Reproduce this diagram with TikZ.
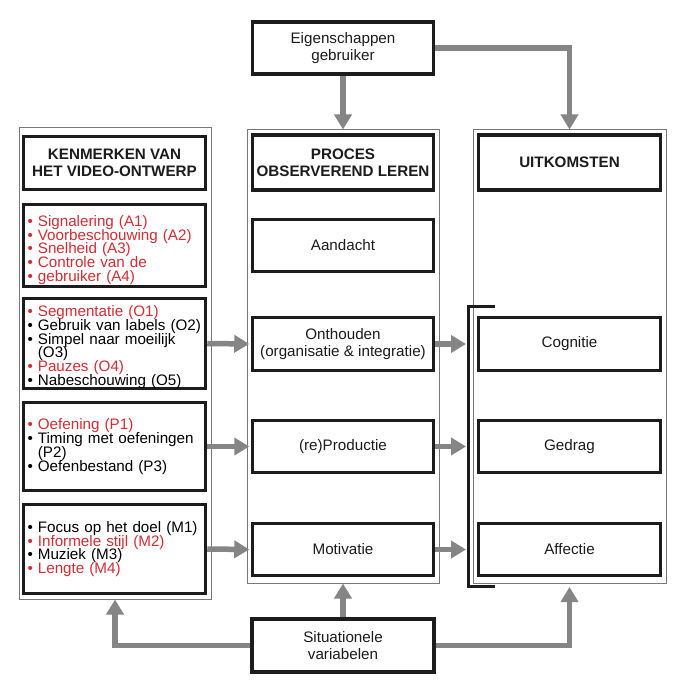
\documentclass[tikz,border=0pt]{standalone}
\usepackage{fontspec}
\setmainfont{Liberation Sans}
\usetikzlibrary{arrows.meta}
\definecolor{lred}{RGB}{212,45,50}
\definecolor{agray}{RGB}{133,133,133}
\definecolor{tgray}{RGB}{120,120,120}
\definecolor{kblack}{RGB}{28,28,28}
\newcommand\mytightlines{\lineskiplimit=-20pt\relax\lineskip=0pt\relax}
\begin{document}
\begin{tikzpicture}[x=1pt,y=-1pt,
  col/.style={draw=tgray,line width=1pt,inner sep=0pt},
  tbox/.style={draw=kblack,line width=3.5pt,inner sep=0pt,align=center,
    font=\fontsize{15.2}{17}\selectfont,text=kblack,minimum width=181pt,minimum height=52pt},
  head/.style={tbox,font=\fontsize{15.2}{17}\selectfont\bfseries},
  lbox/.style={draw=kblack,line width=3.5pt,inner xsep=4pt,inner ysep=0pt,align=left,
    text width=174pt,font=\fontsize{15.2}{13.8}\selectfont\mytightlines,minimum height=#1},
  arr/.style={draw=agray,line width=5.5pt,-{Triangle[length=15pt,width=17pt]}}
]
\useasboundingbox (0,0) rectangle (700,700);
\fill[white] (0,0) rectangle (700,700);
% columns
\node[col,minimum width=192pt,minimum height=471pt] (colL) at (115,363.5) {};
\node[col,minimum width=192pt,minimum height=453pt] (colM) at (343,356.5) {};
\node[col,minimum width=193pt,minimum height=453pt] (colR) at (569.5,356.5) {};
% top and bottom
\node[tbox] (eig) at (343,48) {Eigenschappen\\gebruiker};
\node[tbox,minimum width=182pt,minimum height=53pt] (sit) at (343,645.5) {Situationele\\variabelen};
% headings
\node[head,minimum width=182pt,minimum height=53pt] (hL) at (114.5,163) {KENMERKEN VAN\\HET VIDEO-ONTWERP};
\node[head,minimum height=55pt] (hM) at (343,162.5) {PROCES\\OBSERVEREND LEREN};
\node[head,minimum width=182pt,minimum height=55pt] (hR) at (569.5,162.5) {UITKOMSTEN};
% left lists
\node[lbox=82pt] (A) at (114.5,245.5) {\color{lred}\rule{0pt}{20pt}• Signalering (A1)\\• Voorbeschouwing (A2)\\• Snelheid (A3)\\• Controle van de\\• gebruiker (A4)};
\node[lbox=90pt] (O) at (114.5,343.5) {{\color{lred}\rule{0pt}{18pt}• Segmentatie (O1)}\\• Gebruik van labels (O2)\\• Simpel naar moeilijk\\\phantom{• }(O3)\\{\color{lred}• Pauzes (O4)}\\• Nabeschouwing (O5)};
\node[lbox=88pt] (P) at (114.5,446.5) {{\color{lred}• Oefening (P1)}\\• Timing met oefeningen\\\phantom{• }(P2)\\• Oefenbestand (P3)};
\node[lbox=89pt] (M) at (114.5,549) {• Focus op het doel (M1)\\{\color{lred}• Informele stijl (M2)}\\• Muziek (M3)\\{\color{lred}• Lengte (M4)}};
% middle
\node[tbox] (aan) at (343,245.5) {Aandacht};
\node[tbox,minimum height=53pt] (ont) at (343,344) {Onthouden\\(organisatie \& integratie)};
\node[tbox] (rep) at (343,446.5) {(re)Productie};
\node[tbox] (mot) at (343,549.5) {Motivatie};
% right
\node[tbox,minimum width=182pt,minimum height=53pt] (cog) at (569.5,344) {Cognitie};
\node[tbox,minimum width=182pt] (ged) at (569.5,446.5) {Gedrag};
\node[tbox,minimum width=182pt] (aff) at (569.5,549.5) {Affectie};
% bracket
\coordinate (bt) at (495,306);
\coordinate (bb) at (495,586);
\coordinate (bx) at (466,0);
\draw[kblack,line width=3pt] (bt) -- (468,306) -- (468,586) -- (bb);
% arrows
\draw[arr] (eig.south) -- (colM.north);
\draw[arr] (eig.east) -| (colR.north);
\draw[arr,shorten >=1.5pt] (O.east) -- (ont.west);
\draw[arr,shorten >=1.5pt] (P.east) -- (rep.west);
\draw[arr,shorten >=1.5pt] (M.east) -- (mot.west);
\draw[arr] (ont.east) -- (ont.east -| bx);
\draw[arr] (rep.east) -- (rep.east -| bx);
\draw[arr] (mot.east) -- (mot.east -| bx);
\draw[arr] (sit.west) -| (colL.south);
\draw[arr] (sit.north) -- (colM.south);
\draw[arr,shorten >=3.5pt] (sit.east) -| (colR.south);
\end{tikzpicture}
\end{document}
